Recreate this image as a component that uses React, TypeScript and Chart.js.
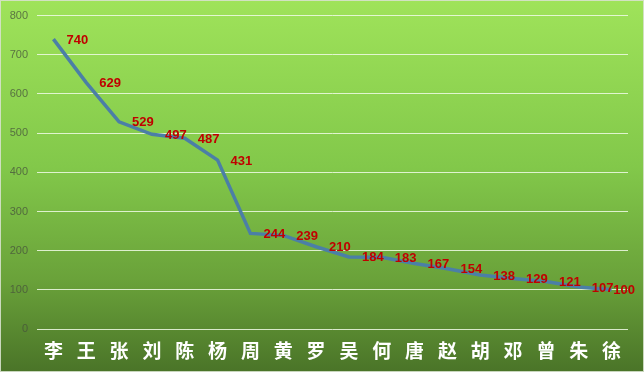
import React, { useEffect, useRef } from "react";
import { Chart, registerables } from "chart.js";

Chart.register(...registerables);

const categories = ["李", "王", "张", "刘", "陈", "杨", "周", "黄", "罗", "吴", "何", "唐", "赵", "胡", "邓", "曾", "朱", "徐"];
const values = [740, 629, 529, 497, 487, 431, 244, 239, 210, 184, 183, 167, 154, 138, 129, 121, 107, 100];
const yMin = 0;
const yMax = 800;
const yStep = 100;

const bgPlugin = {
  id: "bgGradient",
  beforeDraw(chart: any) {
    const { ctx, width, height } = chart;
    ctx.save();
    const g = ctx.createLinearGradient(0, 0, 0, height);
    g.addColorStop(0, "#9fe35a");
    g.addColorStop(0.45, "#82c84a");
    g.addColorStop(0.75, "#6aa23a");
    g.addColorStop(1, "#4a7428");
    ctx.fillStyle = g;
    ctx.fillRect(0, 0, width, height);
    ctx.strokeStyle = "rgba(215,225,205,0.9)";
    ctx.lineWidth = 1;
    ctx.strokeRect(0.5, 0.5, width - 1, height - 1);
    ctx.restore();
  },
};

const labelPlugin = {
  id: "valueLabels",
  afterDatasetsDraw(chart: any) {
    const { ctx, width } = chart;
    const meta = chart.getDatasetMeta(0);
    ctx.save();
    ctx.font = "bold 13px 'Liberation Sans', Arial, sans-serif";
    ctx.fillStyle = "#c00000";
    ctx.textAlign = "left";
    ctx.textBaseline = "middle";
    meta.data.forEach((pt: any, i: number) => {
      const txt = String(values[i]);
      const w = ctx.measureText(txt).width;
      let x = pt.x + 13;
      if (x + w > width - 9) x = width - 9 - w;
      ctx.fillText(txt, x, pt.y + 1);
    });
    ctx.restore();
  },
};

export default function App() {
  const ref = useRef<HTMLCanvasElement | null>(null);
  useEffect(() => {
    document.body.style.margin = "0";
    const chart = new Chart(ref.current as HTMLCanvasElement, {
      type: "line",
      data: {
        labels: categories,
        datasets: [
          {
            data: values,
            borderColor: "#4b7fa6",
            borderWidth: 3.5,
            pointRadius: 0,
            tension: 0,
            fill: false,
          },
        ],
      },
      options: {
        animation: false,
        responsive: false,
        maintainAspectRatio: false,
        layout: { padding: { left: 0, right: 16, top: 15, bottom: 0 } },
        plugins: {
          legend: { display: false },
          tooltip: { enabled: false },
        },
        scales: {
          x: {
            offset: true,
            grid: { display: false, drawTicks: false },
            border: { display: false },
            ticks: {
              color: "#ffffff",
              font: { family: "'Noto Sans CJK SC', sans-serif", size: 19, weight: "bold" },
              padding: 10,
              autoSkip: false,
              maxRotation: 0,
            },
            afterFit(scale: any) {
              scale.height = 43;
            },
          },
          y: {
            min: yMin,
            max: yMax,
            grid: { color: "rgba(240,250,230,0.85)", lineWidth: 1, drawTicks: false },
            border: { display: false },
            ticks: {
              stepSize: yStep,
              color: "rgba(70,80,60,0.75)",
              font: { family: "'Liberation Sans', Arial, sans-serif", size: 11 },
              padding: 9,
            },
            afterFit(scale: any) {
              scale.width = 37;
            },
          },
        },
      },
      plugins: [bgPlugin, labelPlugin],
    });
    return () => chart.destroy();
  }, []);
  return (
    <div style={{ width: 644, height: 372 }}>
      <canvas ref={ref} width={644} height={372} style={{ display: "block" }} />
    </div>
  );
}
